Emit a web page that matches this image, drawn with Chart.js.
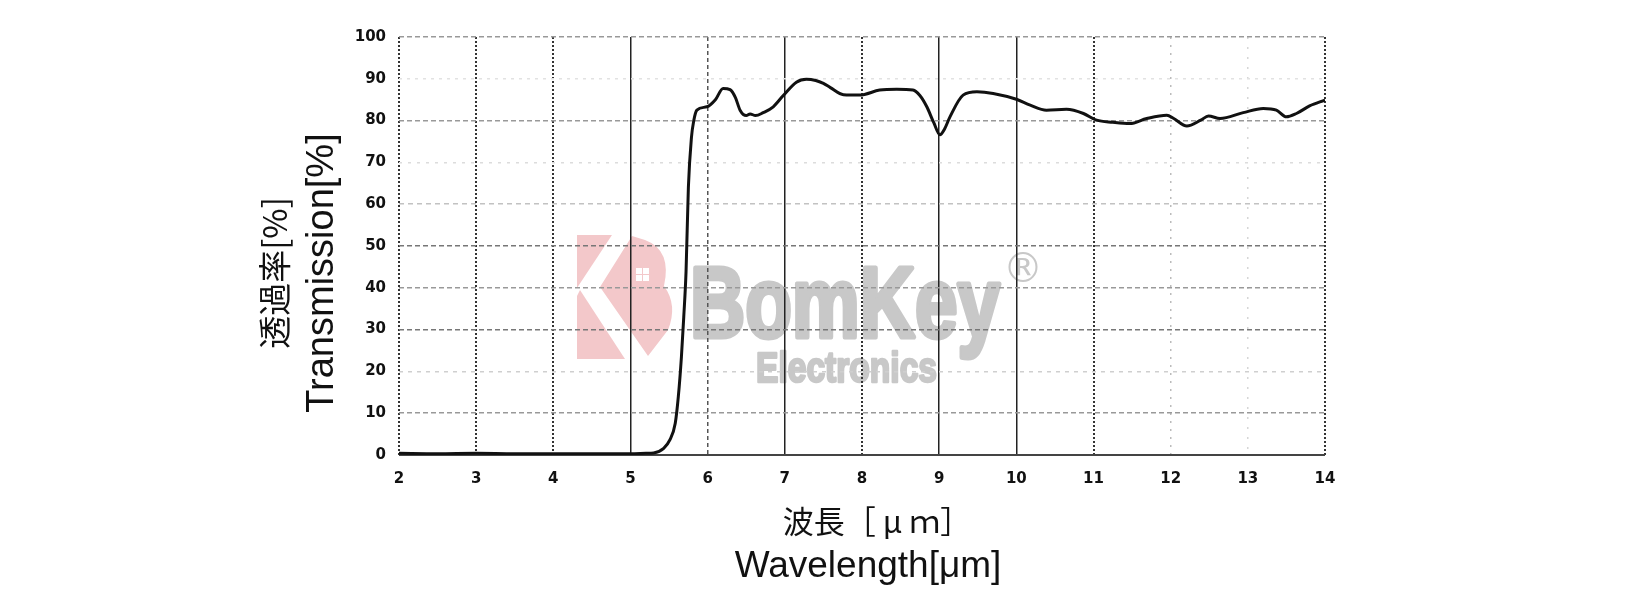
<!DOCTYPE html>
<html>
<head>
<meta charset="utf-8">
<script src="https://cdn.jsdelivr.net/npm/chart.js@4/dist/chart.umd.min.js"></script>
<style>
  html, body { margin: 0; padding: 0; background: #fff; }
  canvas { display: block; }
</style>
</head>
<body>
<canvas id="chart" width="1633" height="607" style="width:1633px;height:607px"></canvas>
<script>
// 波長 [µm] と透過率 [%]
const WAVELENGTH = [
  2.0, 2.5, 3.0, 3.5, 4.0, 4.5, 5.0, 5.2, 5.3, 5.43, 5.51, 5.58, 5.62, 5.66, 5.69,
  5.72, 5.75, 5.79, 5.82, 5.86, 5.99, 6.1, 6.2, 6.29, 6.36, 6.42, 6.5, 6.55, 6.62,
  6.72, 6.85, 6.98, 7.15, 7.28, 7.4, 7.5, 7.59, 7.76, 7.97, 8.23, 8.45, 8.66, 8.75,
  8.84, 8.93, 9.01, 9.07, 9.14, 9.31, 9.49, 9.7, 10.0, 10.18, 10.39, 10.65, 10.87,
  11.04, 11.25, 11.47, 11.69, 11.95, 12.04, 12.21, 12.39, 12.49, 12.64, 12.94, 13.2,
  13.37, 13.5, 13.63, 13.8, 14.0,
];
const TRANSMISSION = [
  0.4, 0.3, 0.4, 0.3, 0.3, 0.3, 0.3, 0.4, 0.5, 1.6, 3.6, 7.6, 14, 23.5, 33,
  44, 64, 76, 80, 82.5, 83.3, 85, 87.7, 87.4, 85.5, 82.5, 81.2, 81.6, 81.2,
  81.9, 83.3, 86.0, 89.2, 89.9, 89.6, 88.9, 87.9, 86.2, 86.1, 87.3, 87.5, 87.3, 86,
  83.3, 79.5, 76.6, 78, 80.9, 86.1, 86.9, 86.5, 85.1, 83.7, 82.5, 82.7, 81.7,
  80.1, 79.6, 79.3, 80.5, 81.3, 80.5, 78.7, 80.1, 81.1, 80.5, 81.9, 82.9,
  82.5, 80.9, 81.7, 83.5, 84.9,
];
const X_TICKS = [2, 3, 4, 5, 6, 7, 8, 9, 10, 11, 12, 13, 14];
const Y_TICKS = [0, 10, 20, 30, 40, 50, 60, 70, 80, 90, 100];

const Y_TITLE = ['透過率[%]', 'Transmission[%]'];
const X_TITLE = ['波長［ μ ｍ］', 'Wavelength[μm]'];

// グリッド線のスタイル（縦線：波長ごと、横線：透過率ごと）
const V_GRID = {
  2: ['#333', 2, [2, 2]], 3: ['#333', 2, [2, 2]], 4: ['#333', 2, [2, 2]],
  5: ['#222', 1.5, []], 6: ['#555', 1.5, [4, 3]], 7: ['#222', 1.5, []],
  8: ['#333', 2, [2, 2]], 9: ['#222', 1.5, []], 10: ['#222', 1.5, []],
  11: ['#333', 2, [2, 2]], 12: ['#bbb', 1.5, [2, 6]], 13: ['#d6d6d6', 1.5, [2, 8]],
  14: ['#333', 2, [2, 2]],
};
const H_GRID = {
  0: ['#444', 2, []], 10: ['#999', 1.5, [5, 3]], 20: ['#cfcfcf', 1.5, [4, 5]],
  30: ['#777', 1.5, [5, 3]], 40: ['#999', 1.5, [5, 3]], 50: ['#777', 1.5, [5, 3]],
  60: ['#c2c2c2', 1.5, [5, 4]], 70: ['#dcdcdc', 1.5, [3, 6]], 80: ['#999', 1.5, [5, 3]],
  90: ['#e2e2e2', 1.5, [3, 5]], 100: ['#999', 1.5, [5, 3]],
};
const gridOpt = (tbl, idx) => ctx => (tbl[ctx.tick && ctx.tick.value] || ['#ccc', 1, [3, 3]])[idx];

const TICK_FONT = { family: "'DejaVu Sans'", size: 15, weight: 'bold' };

// 透かしロゴ（グリッドより先に描く）
const watermark = {
  id: 'watermark',
  beforeDraw(chart) {
    const c = chart.ctx;
    c.save();
    c.fillStyle = '#f3c8ca';
    c.beginPath();
    c.moveTo(577, 235); c.lineTo(612, 235); c.lineTo(577, 288); c.closePath();
    c.fill();
    c.beginPath();
    c.moveTo(577, 296); c.lineTo(580, 290); c.lineTo(625, 359); c.lineTo(577, 359); c.closePath();
    c.fill();
    c.beginPath();
    c.moveTo(632, 236);
    c.lineTo(645, 240);
    c.quadraticCurveTo(672, 250, 664, 286);
    c.quadraticCurveTo(678, 305, 668, 330);
    c.lineTo(648, 356);
    c.lineTo(600, 287);
    c.closePath();
    c.fill();
    c.fillStyle = '#fff';
    [[636, 268], [643, 268], [636, 275], [643, 275]].forEach(([x, y]) => c.fillRect(x, y, 6, 6));

    c.fillStyle = '#c8c8c8';
    c.strokeStyle = '#c8c8c8';
    c.lineJoin = 'round';
    c.textBaseline = 'alphabetic';
    c.textAlign = 'left';
    c.font = "bold 100px 'Liberation Sans Narrow', 'Liberation Sans', sans-serif";
    c.lineWidth = 5;
    c.strokeText('BomKey', 690, 337, 310);
    c.fillText('BomKey', 690, 337, 310);
    c.font = "bold 42px 'Liberation Sans Narrow', 'Liberation Sans', sans-serif";
    c.lineWidth = 2.5;
    c.strokeText('Electronics', 756, 382, 181);
    c.fillText('Electronics', 756, 382, 181);
    c.font = "40px 'DejaVu Sans', sans-serif";
    c.fillText('®', 1003, 282);
    c.restore();
  },
};

// 軸タイトル
const axisTitles = {
  id: 'axisTitles',
  afterDraw(chart) {
    const c = chart.ctx;
    const { left, right } = chart.chartArea;
    const cx = (left + right) / 2 + 6;
    c.save();
    c.fillStyle = '#111';
    c.textAlign = 'center';
    c.textBaseline = 'middle';
    c.font = "31px 'Noto Sans CJK JP', sans-serif";
    c.fillText(X_TITLE[0], cx + 9, 521);
    c.font = "37px 'Liberation Sans', Arial, sans-serif";
    c.fillText(X_TITLE[1], cx, 567);

    c.translate(0, 273);
    c.rotate(-Math.PI / 2);
    c.font = "33px 'Noto Sans CJK JP', sans-serif";
    c.fillText(Y_TITLE[0], 0, 274);
    c.font = "38px 'Liberation Sans', Arial, sans-serif";
    c.fillText(Y_TITLE[1], 0, 323);
    c.restore();
  },
};

new Chart(document.getElementById('chart'), {
  type: 'line',
  data: {
    datasets: [{
      data: WAVELENGTH.map((x, i) => ({ x, y: TRANSMISSION[i] })),
      borderColor: '#111',
      borderWidth: 3,
      pointRadius: 0,
      cubicInterpolationMode: 'monotone',
      fill: false,
    }],
  },
  options: {
    responsive: false,
    animation: false,
    layout: { padding: { left: 349, right: 308, top: 37, bottom: 102 } },
    plugins: { legend: { display: false }, tooltip: { enabled: false } },
    scales: {
      x: {
        type: 'linear',
        min: 2, max: 14,
        afterBuildTicks: s => { s.ticks = X_TICKS.map(value => ({ value })); },
        afterFit: s => { s.height = 50; },
        ticks: { color: '#111', font: TICK_FONT, padding: 15, maxRotation: 0 },
        grid: { drawTicks: false, color: gridOpt(V_GRID, 0), lineWidth: gridOpt(V_GRID, 1) },
        border: { display: false, dash: gridOpt(V_GRID, 2) },
      },
      y: {
        min: 0, max: 100,
        afterBuildTicks: s => { s.ticks = Y_TICKS.map(value => ({ value })); },
        afterFit: s => { s.width = 50; },
        ticks: { color: '#111', font: TICK_FONT, padding: 13 },
        grid: { drawTicks: false, color: gridOpt(H_GRID, 0), lineWidth: gridOpt(H_GRID, 1) },
        border: { display: false, dash: gridOpt(H_GRID, 2) },
      },
    },
  },
  plugins: [watermark, axisTitles],
});
</script>
</body>
</html>
